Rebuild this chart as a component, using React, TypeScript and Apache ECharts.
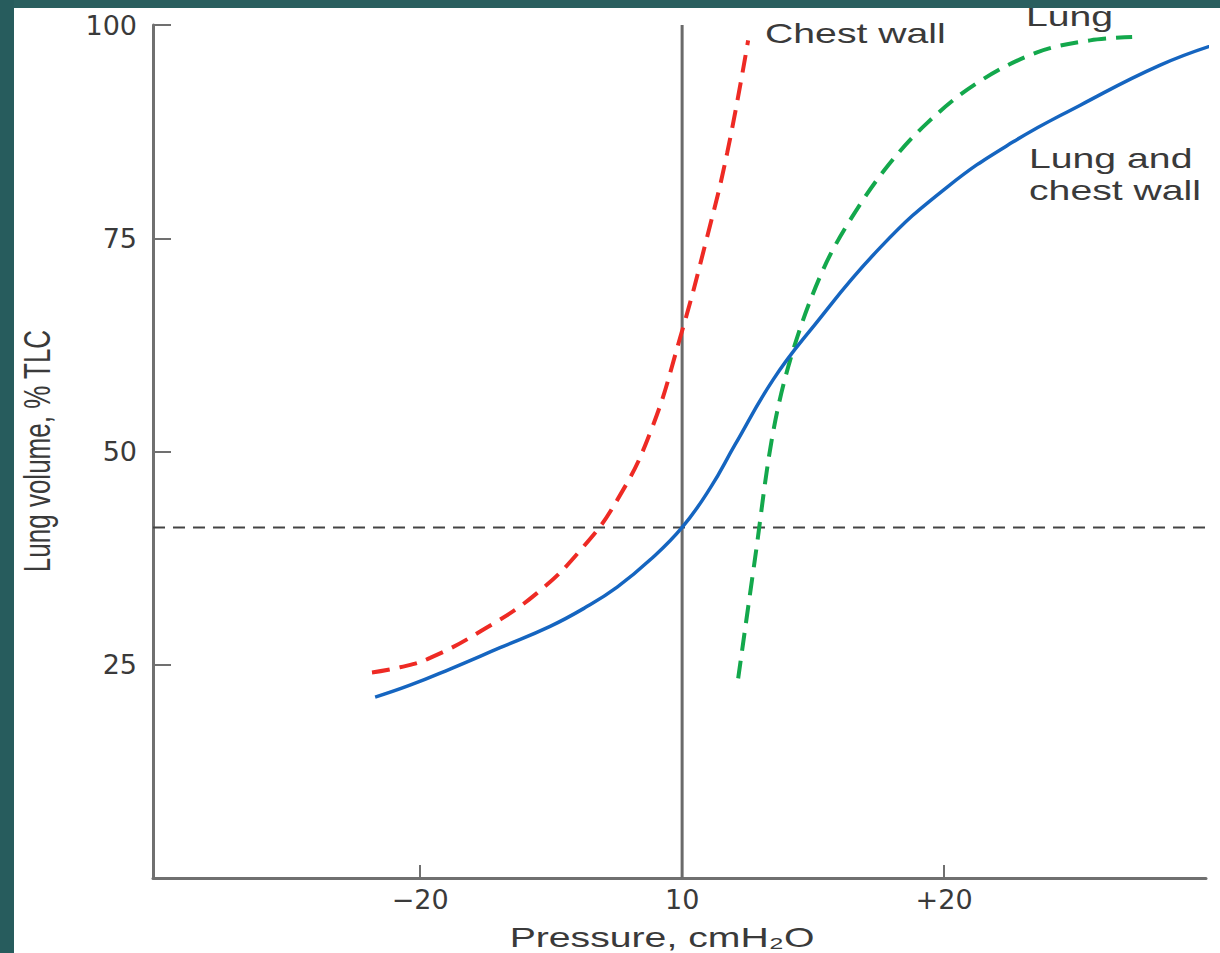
import React, { useEffect, useRef } from "react";
import * as echarts from "echarts";

// Pressure (axis units) and lung volume (% TLC)
const lungChestWallPressure = [-11.72, -10.39, -8.86, -6.95, -5.04, -3.7, -2.48, -1.22, 0, 1.07, 2.02, 3.47, 4.89, 7.56, 10.12, 12.64, 15.2, 18.25, 20.54];
const lungChestWallVolume = [21.2, 22.6, 24.5, 27.0, 29.5, 31.7, 34.1, 37.3, 41.1, 45.7, 50.8, 58.4, 64.2, 73.9, 81.0, 86.3, 90.6, 95.3, 97.9];

const chestWallPressure = [-11.84, -10.77, -9.62, -7.6, -5.54, -3.78, -2.48, -1.22, -0.08, 0.95, 1.72, 2.52];
const chestWallVolume = [24.1, 24.7, 25.8, 29.1, 33.4, 38.8, 44.3, 52.2, 63.3, 75.1, 85.0, 98.2];

const lungPressure = [2.14, 2.79, 3.47, 4.24, 5.38, 6.49, 7.83, 9.35, 11.26, 13.55, 15.58, 17.18];
const lungVolume = [23.4, 37.6, 52.2, 61.9, 71.3, 77.5, 83.4, 88.5, 93.2, 96.8, 98.2, 98.6];

const restingVolume = 41.1;
const xMin = -20.2;
const xMax = 20;
const yMin = 0;
const yMax = 100;

const pressureTicks = [-10, 0, 10];
const pressureTickLabels = ["\u221220", "10", "+20"];
const volumeTicks = [25, 50, 75, 100];

const zip = (xs: number[], ys: number[]) => xs.map((x, i) => [x, ys[i]]);

export default function App() {
  const ref = useRef<HTMLDivElement>(null);

  useEffect(() => {
    const chart = echarts.init(ref.current!, null, { renderer: "svg" });
    const textColor = "#3a3a3a";
    const axisColor = "#707070";
    const stretch = 1.4;
    const font = "Liberation Sans, Arial, sans-serif";

    chart.setOption({
      animation: false,
      backgroundColor: "#ffffff",
      grid: {
        left: 153,
        right: 14,
        top: 25,
        bottom: 75,
        containLabel: false,
        outerBoundsMode: "none",
      },
      xAxis: {
        type: "value",
        min: xMin,
        max: xMax,
        axisLine: { show: true, onZero: false, lineStyle: { color: axisColor, width: 3 } },
        axisTick: {
          show: true,
          inside: true,
          length: 13,
          customValues: pressureTicks,
          lineStyle: { color: axisColor, width: 2 },
        },
        axisLabel: {
          show: true,
          customValues: pressureTicks,
          margin: 8,
          color: textColor,
          fontSize: 27,
          fontFamily: "DejaVu Sans, sans-serif",
          formatter: (v: number) => {
            const i = pressureTicks.indexOf(v);
            return i >= 0 ? pressureTickLabels[i] : "";
          },
        },
        splitLine: { show: false },
      },
      yAxis: {
        type: "value",
        min: yMin,
        max: yMax,
        axisLine: { show: true, onZero: false, lineStyle: { color: axisColor, width: 3 } },
        axisTick: {
          show: true,
          inside: true,
          length: 18,
          customValues: volumeTicks,
          lineStyle: { color: axisColor, width: 2 },
        },
        axisLabel: {
          show: true,
          customValues: volumeTicks,
          margin: 16,
          color: textColor,
          fontSize: 27,
          fontFamily: "DejaVu Sans, sans-serif",
        },
        splitLine: { show: false },
      },
      series: [
        {
          name: "Resting volume",
          type: "line",
          data: [
            [xMin, restingVolume],
            [xMax, restingVolume],
          ],
          showSymbol: false,
          lineStyle: { color: "#444444", width: 2, type: [12, 8] },
          z: 1,
        },
        {
          name: "Zero pressure",
          type: "line",
          data: [
            [0, yMin],
            [0, yMax],
          ],
          showSymbol: false,
          lineStyle: { color: "#6a6a6a", width: 3 },
          z: 1,
        },
        {
          name: "Chest wall",
          type: "line",
          data: zip(chestWallPressure, chestWallVolume),
          smooth: 0.45,
          showSymbol: false,
          lineStyle: { color: "#ee2a24", width: 4, type: [18, 10] },
          z: 3,
        },
        {
          name: "Lung",
          type: "line",
          data: zip(lungPressure, lungVolume),
          smooth: 0.35,
          showSymbol: false,
          lineStyle: { color: "#13a84c", width: 4, type: [18, 10] },
          z: 3,
        },
        {
          name: "Lung and chest wall",
          type: "line",
          data: zip(lungChestWallPressure, lungChestWallVolume),
          smooth: 0.45,
          showSymbol: false,
          clip: false,
          lineStyle: { color: "#1565c0", width: 3.5 },
          z: 4,
        },
      ],
      graphic: [
        {
          type: "text",
          x: 765,
          y: 33,
          scaleX: stretch,
          style: {
            text: "Chest wall",
            fontSize: 28,
            fontFamily: font,
            fill: textColor,
            align: "left",
            verticalAlign: "middle",
          },
          z: 10,
        },
        {
          type: "text",
          x: 1026,
          y: 16,
          scaleX: stretch,
          style: {
            text: "Lung",
            fontSize: 28,
            fontFamily: font,
            fill: textColor,
            align: "left",
            verticalAlign: "middle",
          },
          z: 10,
        },
        {
          type: "text",
          x: 1029,
          y: 158,
          scaleX: stretch,
          style: {
            text: "Lung and",
            fontSize: 28,
            fontFamily: font,
            fill: textColor,
            align: "left",
            verticalAlign: "middle",
          },
          z: 10,
        },
        {
          type: "text",
          x: 1029,
          y: 190,
          scaleX: stretch,
          style: {
            text: "chest wall",
            fontSize: 28,
            fontFamily: font,
            fill: textColor,
            align: "left",
            verticalAlign: "middle",
          },
          z: 10,
        },
        {
          type: "text",
          x: 662,
          y: 937,
          scaleX: stretch,
          style: {
            text: "Pressure, cmH\u2082O",
            fontSize: 28,
            fontFamily: font,
            fill: textColor,
            align: "center",
            verticalAlign: "middle",
          },
          z: 10,
        },
        {
          type: "text",
          x: 37,
          y: 451,
          rotation: Math.PI / 2,
          scaleY: stretch,
          style: {
            text: "Lung volume, % TLC",
            fontSize: 26,
            fontFamily: font,
            fill: textColor,
            align: "center",
            verticalAlign: "middle",
          },
          z: 10,
        },
        {
          type: "rect",
          shape: { x: 0, y: 0, width: 1220, height: 8 },
          style: { fill: "#2a5f5f" },
          z: 100,
        },
        {
          type: "rect",
          shape: { x: 0, y: 0, width: 14, height: 953 },
          style: { fill: "#275c5d" },
          z: 100,
        },
      ],
    });
    return () => chart.dispose();
  }, []);

  return (
    <div
      ref={ref}
      style={{ position: "fixed", left: 0, top: 0, width: 1220, height: 953 }}
    />
  );
}
